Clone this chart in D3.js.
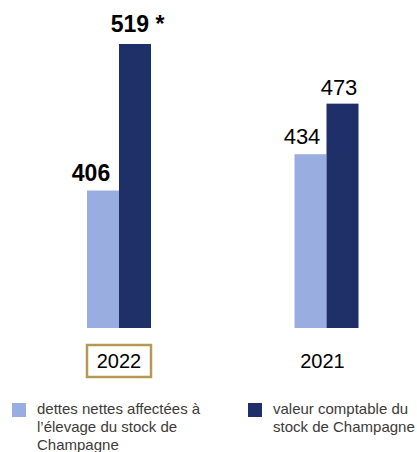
<!DOCTYPE html>
<html>
<head>
<meta charset="utf-8">
<script src="https://cdn.jsdelivr.net/npm/d3@7"></script>
<style>
  html, body { margin: 0; padding: 0; background: #fff; }
  svg { display: block; font-family: "Liberation Sans", Arial, sans-serif; }
</style>
</head>
<body>
<div id="chart"></div>
<script>
// years shown, left to right
const years = ["2022", "2021"];
// series
const seriesKeys = ["dettes", "valeur"];
const dettesValues = [406, 434];
const valeurValues = [519, 473];
const valueLabels = { dettes: ["406", "434"], valeur: ["519 *", "473"] };
const legendLabels = [
    ["dettes nettes affectées à", "l\u2019élevage du stock de", "Champagne"],
    ["valeur comptable du", "stock de Champagne"]
];

const colors = { dettes: "#99ade0", valeur: "#1f3068" };

const width = 417;
const height = 452;

const svg = d3.select("#chart")
    .append("svg")
    .attr("width", width)
    .attr("height", height);

// scales
const x = d3.scalePoint()
    .domain(years)
    .range([119, 326.5]);

const xSub = d3.scaleBand()
    .domain(seriesKeys)
    .range([-32, 32])
    .padding(0);

const y = d3.scaleLinear()
    .domain([300, 519])
    .range([328, 44]);

const rows = years.map((yr, i) => ({
    year: yr,
    bold: i === 0,
    values: [
        { key: "dettes", value: dettesValues[i], label: valueLabels.dettes[i] },
        { key: "valeur", value: valeurValues[i], label: valueLabels.valeur[i] }
    ]
}));

// bars
const groups = svg.selectAll("g.year")
    .data(rows)
    .enter()
    .append("g")
    .attr("class", "year")
    .attr("transform", d => `translate(${x(d.year)},0)`);

groups.selectAll("rect")
    .data(d => d.values)
    .enter()
    .append("rect")
    .attr("x", d => xSub(d.key))
    .attr("y", d => y(d.value))
    .attr("width", xSub.bandwidth())
    .attr("height", d => y.range()[0] - y(d.value))
    .attr("fill", d => colors[d.key]);

// value labels (nudged like the original)
groups.each(function(row) {
    d3.select(this).selectAll("text.val")
        .data(row.values)
        .enter()
        .append("text")
        .attr("class", "val")
        .attr("x", d => xSub(d.key) + xSub.bandwidth() / 2 +
            (d.key === "dettes" ? (row.bold ? -12 : -8.5) : (row.bold ? 2.5 : -3.5)))
        .attr("y", d => y(d.value) - (d.key === "dettes" ? 10 : (row.bold ? 12 : 8.5)))
        .attr("text-anchor", "middle")
        .attr("font-size", row.bold ? "23px" : "22px")
        .attr("font-weight", row.bold ? "bold" : "normal")
        .attr("fill", "#000")
        .text(d => d.label);
});

// year labels
const xAxis = svg.append("g");
xAxis.selectAll("text")
    .data(years)
    .enter()
    .append("text")
    .attr("x", (d, i) => x(d) + (i === 0 ? 0 : -4))
    .attr("y", 368)
    .attr("text-anchor", "middle")
    .attr("font-size", "20px")
    .attr("fill", "#000")
    .text(d => d);

// box around the current year
xAxis.append("rect")
    .attr("x", x(years[0]) - 32)
    .attr("y", 345)
    .attr("width", 64)
    .attr("height", 32)
    .attr("fill", "none")
    .attr("stroke", "#b49a55")
    .attr("stroke-width", 2.5);

// legend
const legendX = [12, 248];
const legend = svg.selectAll("g.legend")
    .data(seriesKeys)
    .enter()
    .append("g")
    .attr("class", "legend")
    .attr("transform", (d, i) => `translate(${legendX[i]},403)`);

legend.append("rect")
    .attr("width", 14)
    .attr("height", 14)
    .attr("fill", d => colors[d]);

legend.append("text")
    .attr("x", 25)
    .attr("y", 11)
    .attr("font-size", "15px")
    .attr("fill", "#3d3a38")
    .selectAll("tspan")
    .data((d, i) => legendLabels[i])
    .enter()
    .append("tspan")
    .attr("x", 25)
    .attr("dy", (d, i) => i === 0 ? 0 : 18)
    .text(d => d);
</script>
</body>
</html>
